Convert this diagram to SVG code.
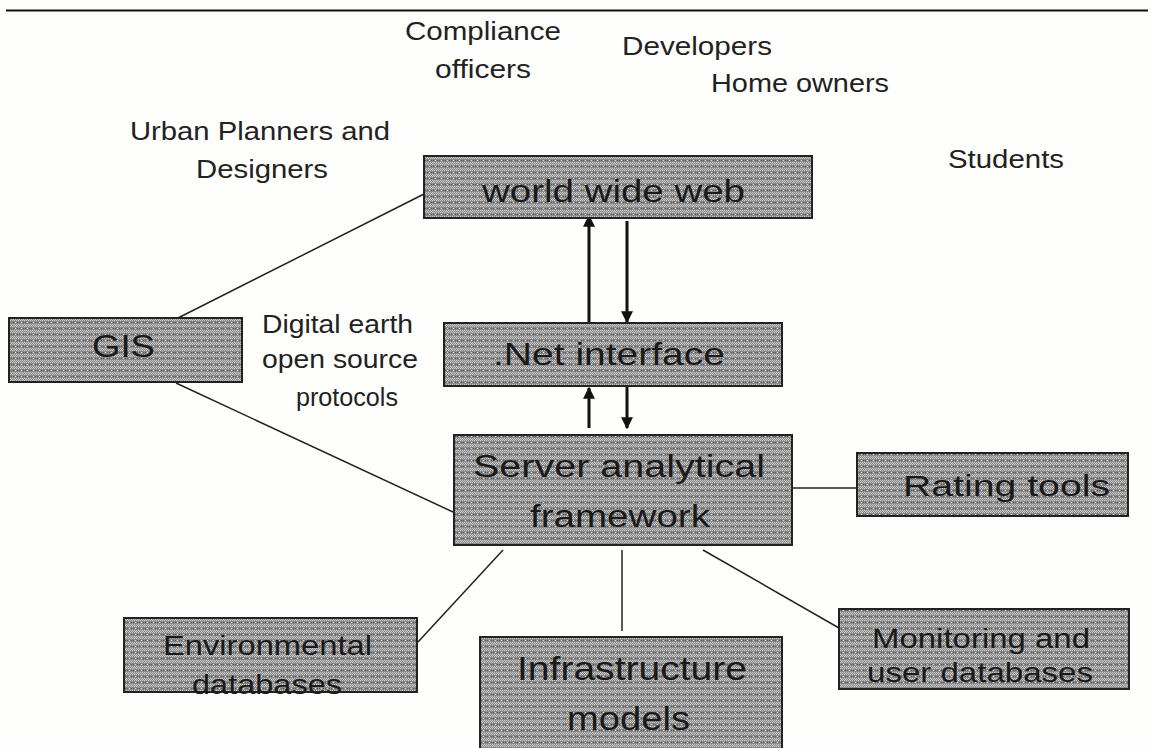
<svg xmlns="http://www.w3.org/2000/svg" width="1154" height="748" viewBox="0 0 1154 748">
<defs>
<pattern id="dots" width="6" height="6" patternUnits="userSpaceOnUse">
<rect width="6" height="6" fill="#8a8a8a"/>
<rect x="0" y="0" width="1" height="1" fill="#c8c8c8"/>
<rect x="2" y="0" width="1" height="1" fill="#c8c8c8"/>
<rect x="4" y="0" width="1" height="1" fill="#c8c8c8"/>
<rect x="1" y="1" width="1" height="1" fill="#c8c8c8"/>
<rect x="3" y="1" width="1" height="1" fill="#c8c8c8"/>
<rect x="5" y="1" width="1" height="1" fill="#c8c8c8"/>
<rect x="0" y="2" width="1" height="1" fill="#c8c8c8"/>
<rect x="2" y="2" width="1" height="1" fill="#c8c8c8"/>
<rect x="4" y="2" width="1" height="1" fill="#c8c8c8"/>
<rect x="3" y="4" width="1" height="1" fill="#dcdcdc"/>
<rect x="1" y="4" width="1" height="1" fill="#5a5a5a"/>
<rect x="5" y="4" width="1" height="1" fill="#5a5a5a"/>
</pattern>
<marker id="ah" viewBox="0 0 10 10" refX="9" refY="5" markerWidth="4" markerHeight="4" orient="auto" markerUnits="strokeWidth">
<path d="M0,0 L10,5 L0,10 z" fill="#111"/>
</marker>
</defs>
<style>
.box{fill:url(#dots);stroke:#222;stroke-width:2}
.bt{font-family:"Liberation Sans",Arial,sans-serif;fill:#1a1a1a}
.lb{font-family:"Liberation Sans",Arial,sans-serif;font-size:25px;fill:#222}
.ln{stroke:#222;stroke-width:1.5;fill:none}
.ar{stroke:#111;stroke-width:3;fill:none;marker-end:url(#ah)}
</style>
<rect width="1154" height="748" fill="#fefefc"/>
<line x1="6" y1="10.5" x2="1148" y2="10.5" stroke="#111" stroke-width="2"/>

<g id="labels">
<text class="lb" x="405" y="40" textLength="156" lengthAdjust="spacingAndGlyphs">Compliance</text>
<text class="lb" x="435" y="78" textLength="96" lengthAdjust="spacingAndGlyphs">officers</text>
<text class="lb" x="622" y="55" textLength="150" lengthAdjust="spacingAndGlyphs">Developers</text>
<text class="lb" x="711" y="92" textLength="178" lengthAdjust="spacingAndGlyphs">Home owners</text>
<text class="lb" x="130" y="140" textLength="260" lengthAdjust="spacingAndGlyphs">Urban Planners and</text>
<text class="lb" x="196" y="178" textLength="132" lengthAdjust="spacingAndGlyphs">Designers</text>
<text class="lb" x="948" y="168" textLength="116" lengthAdjust="spacingAndGlyphs">Students</text>
<text class="lb" x="262" y="333" textLength="151" lengthAdjust="spacingAndGlyphs">Digital earth</text>
<text class="lb" x="262" y="368" textLength="156" lengthAdjust="spacingAndGlyphs">open source</text>
<text class="lb" x="296" y="406" textLength="102" lengthAdjust="spacingAndGlyphs">protocols</text>
</g>

<g id="connectors">
<line class="ln" x1="424" y1="194" x2="178" y2="318"/>
<line class="ln" x1="176" y1="383" x2="453" y2="512"/>
<line class="ln" x1="792" y1="488" x2="857" y2="488"/>
<line class="ln" x1="503" y1="550" x2="418" y2="642"/>
<line class="ln" x1="622" y1="550" x2="622" y2="631"/>
<line class="ln" x1="703" y1="550" x2="839" y2="628"/>
<line class="ar" x1="589" y1="322" x2="589" y2="216"/>
<line class="ar" x1="627" y1="221" x2="627" y2="322"/>
<line class="ar" x1="589" y1="428" x2="589" y2="388"/>
<line class="ar" x1="627" y1="387" x2="627" y2="428"/>
</g>

<g id="www">
<rect class="box" x="424" y="156" width="388" height="62"/>
<text class="bt" x="482" y="202" font-size="32" textLength="263" lengthAdjust="spacingAndGlyphs">world wide web</text>
</g>
<g id="gis">
<rect class="box" x="9" y="318" width="233" height="64"/>
<text class="bt" x="92" y="357" font-size="31" textLength="63" lengthAdjust="spacingAndGlyphs">GIS</text>
</g>
<g id="net">
<rect class="box" x="444" y="323" width="338" height="63"/>
<text class="bt" x="493" y="365" font-size="32" textLength="232" lengthAdjust="spacingAndGlyphs">.Net interface</text>
</g>
<g id="server">
<rect class="box" x="454" y="435" width="338" height="110"/>
<text class="bt" x="473" y="477" font-size="31" textLength="292" lengthAdjust="spacingAndGlyphs">Server analytical</text>
<text class="bt" x="530" y="527" font-size="31" textLength="180" lengthAdjust="spacingAndGlyphs">framework</text>
</g>
<g id="rating">
<rect class="box" x="857" y="453" width="271" height="63"/>
<text class="bt" x="903" y="496" font-size="29" textLength="207" lengthAdjust="spacingAndGlyphs">Rating tools</text>
</g>
<g id="env">
<rect class="box" x="124" y="618" width="293" height="74"/>
<text class="bt" x="163" y="655" font-size="28" textLength="209" lengthAdjust="spacingAndGlyphs">Environmental</text>
<text class="bt" x="192" y="694" font-size="28" textLength="150" lengthAdjust="spacingAndGlyphs">databases</text>
</g>
<g id="infra">
<rect class="box" x="480" y="637" width="302" height="120"/>
<text class="bt" x="517" y="680" font-size="34" textLength="230" lengthAdjust="spacingAndGlyphs">Infrastructure</text>
<text class="bt" x="567" y="730" font-size="34" textLength="123" lengthAdjust="spacingAndGlyphs">models</text>
</g>
<g id="monitor">
<rect class="box" x="839" y="609" width="290" height="80"/>
<text class="bt" x="872" y="648" font-size="28" textLength="218" lengthAdjust="spacingAndGlyphs">Monitoring and</text>
<text class="bt" x="867" y="682" font-size="28" textLength="226" lengthAdjust="spacingAndGlyphs">user databases</text>
</g>
</svg>
